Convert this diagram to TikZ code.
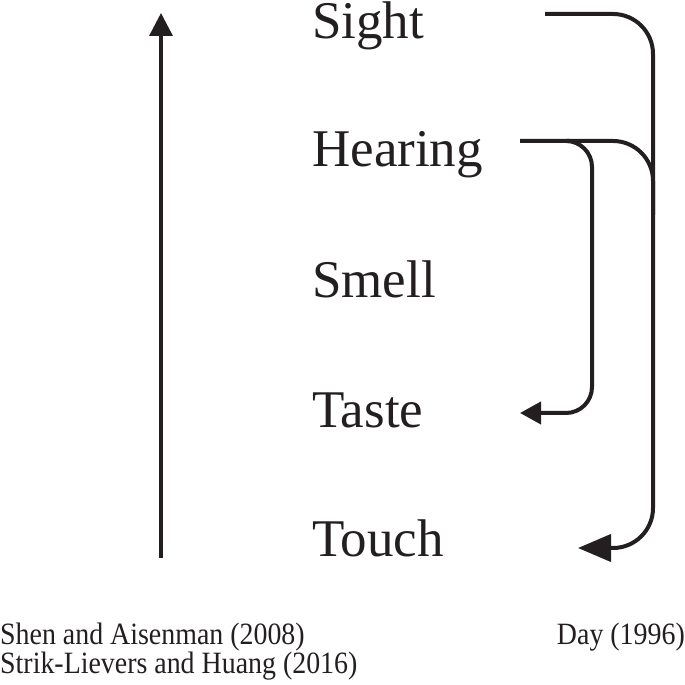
\documentclass[tikz,border=0pt]{standalone}
\usepackage{fontspec}
\setmainfont{Liberation Serif}
\usetikzlibrary{arrows.meta, positioning, calc}
\definecolor{InkDark}{RGB}{35,31,32}

\begin{document}
\begin{tikzpicture}[x=1pt,y=1pt,
        sense/.style={anchor=base west,inner sep=0pt,text=InkDark,
                      font=\fontsize{53}{60}\selectfont},
        source/.style={inner sep=0pt,text=InkDark,
                       font=\fontsize{31}{36}\selectfont},
        link/.style={draw=InkDark,line width=4pt,rounded corners=40pt},
        bigtip/.style={-{Triangle[length=33pt,width=27pt]}},
        smalltip/.style={-{Triangle[length=21pt,width=22pt]}}
      ]
        \useasboundingbox (0,0) rectangle (685,685);

        % senses, top to bottom
        \node[sense] (sight)   at (312,646) {Sight};
        \node[sense] (hearing) at (312,518) {Hearing};
        \node[sense] (smell)   at (312,387) {Smell};
        \node[sense] (taste)   at (312,257) {Taste};
        \node[sense] (touch)   at (312,128) {Touch};

        % hierarchy arrow
        \coordinate (low)  at (161,127);
        \coordinate (high) at (161,672);
        \draw[draw=InkDark,line width=3.5pt,
              -{Triangle[length=23pt,width=23pt]}] (low) -- (high);

        % Day (1996)
        \coordinate (sightR)   at (545,671);
        \coordinate (hearingR) at (520,544);
        \coordinate (tasteR)   at (520,272);
        \coordinate (touchR)   at (578,137);
        \draw[link,bigtip] (sightR) -- (653,671) -- (653,137) -- (touchR);
        \draw[link] (hearingR) -- (653,544) -- (653,470);
        \draw[link,rounded corners=26pt,smalltip]
          (570,544) -- (592,544) -- (592,272) -- (tasteR);

        % sources
        \node[source,anchor=base west] (shen) at (0,40)
          {\scalebox{0.9}[1]{Shen and Aisenman (2008)}};
        \node[source,anchor=base west] (strik) at (0,12)
          {\scalebox{0.9}[1]{Strik-Lievers and Huang (2016)}};
        \node[source,anchor=base east] (day) at (685,40)
          {\scalebox{0.9}[1]{Day (1996)}};
      \end{tikzpicture}
\end{document}
